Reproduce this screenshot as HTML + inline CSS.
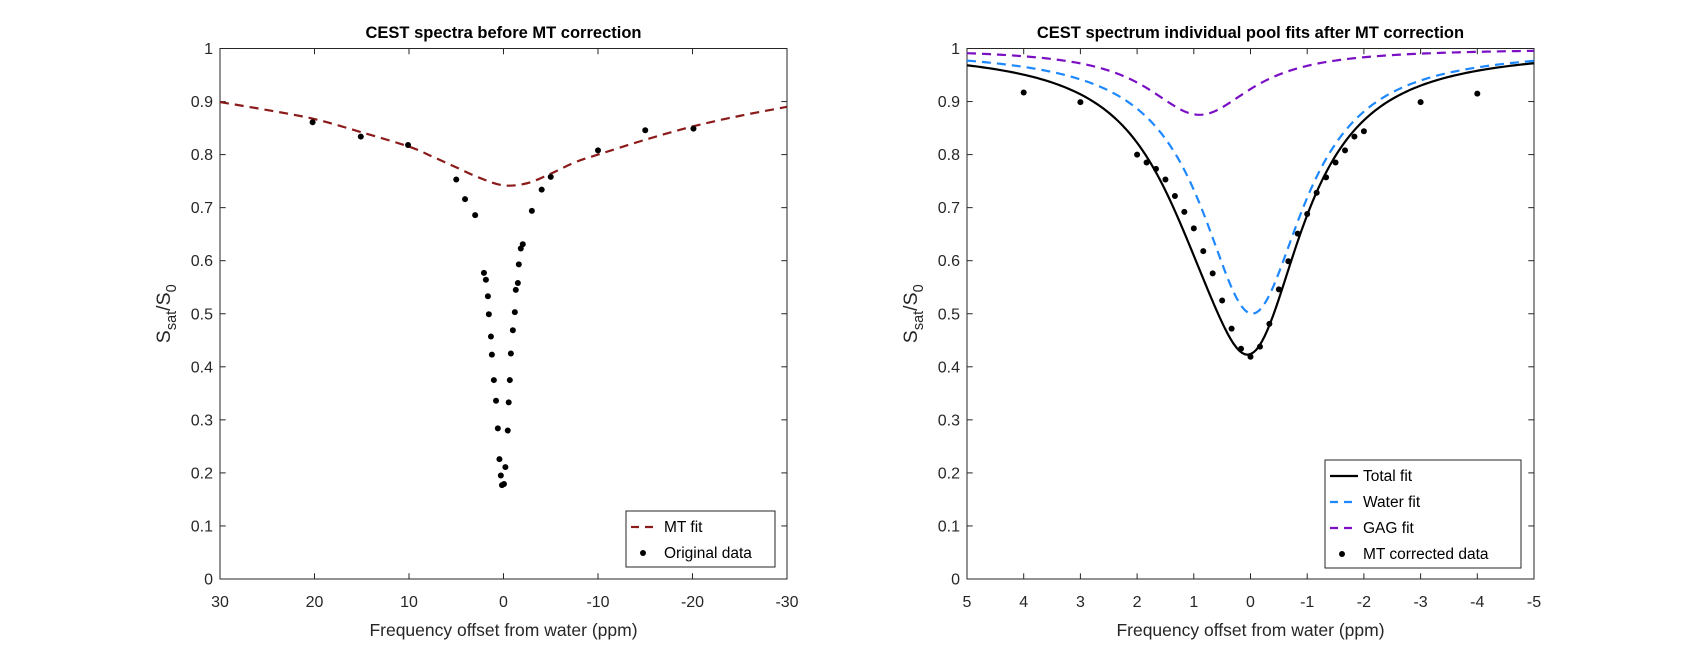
<!DOCTYPE html>
<html><head><meta charset="utf-8"><style>
html,body{margin:0;padding:0;background:#fff;}
svg{display:block;font-family:"Liberation Sans",Arial,sans-serif;}
</style></head><body>
<svg id="fig" width="1695" height="651" viewBox="0 0 1695 651"></svg>
<script>
// ---- Left chart data ----
const mtFitX = [30,25,20,15,10,7.5,5,2.5,0,-2.5,-5,-7.5,-10,-15,-20,-25,-30];
const mtFitY = [0.899,0.884,0.867,0.842,0.815,0.796,0.776,0.756,0.742,0.746,0.764,0.785,0.800,0.828,0.853,0.873,0.890];
const origX = [20.2,15.1,10.1,5,4.07,3,-3,-4.04,-5,-10,-15,-20.1,
  2.07,1.86,1.65,1.55,1.33,1.23,1.02,0.79,0.6,0.43,0.28,0.16,
  -2.04,-1.83,-1.62,-1.52,-1.30,-1.20,-0.99,-0.78,-0.67,-0.55,-0.45,-0.2,-0.05];
const origY = [0.861,0.834,0.818,0.753,0.716,0.686,0.694,0.734,0.758,0.808,0.846,0.849,
  0.577,0.564,0.533,0.499,0.457,0.423,0.375,0.336,0.284,0.226,0.195,0.177,
  0.631,0.623,0.593,0.558,0.545,0.503,0.469,0.425,0.375,0.333,0.280,0.211,0.179];
const leftXTicks = [30,20,10,0,-10,-20,-30];
// ---- Right chart data ----
const corrX = [4,3,2,1.833,1.667,1.5,1.333,1.167,1,0.833,0.667,0.5,0.333,0.167,0,
  -0.167,-0.333,-0.5,-0.667,-0.833,-1,-1.167,-1.333,-1.5,-1.667,-1.833,-2,-3,-4];
const corrY = [0.917,0.899,0.80,0.785,0.773,0.753,0.722,0.692,0.661,0.618,0.576,0.525,0.472,0.434,0.419,
  0.438,0.481,0.546,0.599,0.651,0.688,0.728,0.757,0.785,0.808,0.834,0.844,0.899,0.915];
// Lorentzian fit parameters: [amplitude, center ppm, half-width ppm]
const waterFitParams = [0.5, -0.03, 1.1];
const gagFitParams = [0.125, 0.9, 1.13];
const rightXTicks = [5,4,3,2,1,0,-1,-2,-3,-4,-5];
const yTicks = [0,0.1,0.2,0.3,0.4,0.5,0.6,0.7,0.8,0.9,1];

const NS = "http://www.w3.org/2000/svg";
const svg = document.getElementById('fig');
function el(tag, attrs, parent, text){
  const e = document.createElementNS(NS, tag);
  for (const k in attrs) e.setAttribute(k, attrs[k]);
  if (text !== undefined) e.textContent = text;
  (parent||svg).appendChild(e);
  return e;
}
const TOP = 48.5, BOT = 579;
function makeAxes(x0, x1, xmin, xmax, name){
  const sx = v => x0 + (xmax - v) / (xmax - xmin) * (x1 - x0);
  const sy = v => BOT - v * (BOT - TOP);
  const g = el('g', {});
  
  
  return {sx, sy, g, x0, x1};
}
function drawFrame(ax, xticks, title){
  const g = ax.g;
  const fr = el('rect', {x:ax.x0, y:TOP, width:ax.x1-ax.x0, height:BOT-TOP, fill:'none', stroke:'#262626', 'stroke-width':1}, g);
  
  
  xticks.forEach(t => {
    const x = ax.sx(t);
    el('line', {x1:x, x2:x, y1:BOT, y2:BOT-5.7, stroke:'#262626'}, g);
    el('line', {x1:x, x2:x, y1:TOP, y2:TOP+5.7, stroke:'#262626'}, g);
    const lb = el('text', {x:x, y:BOT+28, 'text-anchor':'middle', 'font-size':16, fill:'#262626'}, g, String(t));
    
    
  });
  yTicks.forEach(t => {
    const y = ax.sy(t);
    el('line', {x1:ax.x0, x2:ax.x0+5.7, y1:y, y2:y, stroke:'#262626'}, g);
    el('line', {x1:ax.x1, x2:ax.x1-5.7, y1:y, y2:y, stroke:'#262626'}, g);
    const lb = el('text', {x:ax.x0-7, y:y+5.5, 'text-anchor':'end', 'font-size':16, fill:'#262626'}, g, String(t));
    
    
  });
  const cx = (ax.x0+ax.x1)/2;
  const tt = el('text', {x:cx, y:38, 'text-anchor':'middle', 'font-size':16.5, 'font-weight':'bold', fill:'#000'}, g, title);
  
  
  const xl = el('text', {x:cx, y:636, 'text-anchor':'middle', 'font-size':17.5, fill:'#262626'}, g, 'Frequency offset from water (ppm)');
  
  
  const yl = el('text', {transform:`translate(${ax.x0-50},${(TOP+BOT)/2}) rotate(-90)`, 'text-anchor':'middle', 'font-size':19.5, fill:'#262626'}, g);
  
  
  el('tspan', {}, yl, 'S');
  el('tspan', {'font-size':14.5, dy:6}, yl, 'sat');
  el('tspan', {dy:-6}, yl, '/S');
  el('tspan', {'font-size':14.5, dy:6}, yl, '0');
}
function smoothPath(pts){
  let d = `M${pts[0][0]},${pts[0][1]}`;
  for (let i=0;i<pts.length-1;i++){
    const p0=pts[Math.max(0,i-1)], p1=pts[i], p2=pts[i+1], p3=pts[Math.min(pts.length-1,i+2)];
    const c1=[p1[0]+(p2[0]-p0[0])/6, p1[1]+(p2[1]-p0[1])/6];
    const c2=[p2[0]-(p3[0]-p1[0])/6, p2[1]-(p3[1]-p1[1])/6];
    d += ` C${c1[0]},${c1[1]} ${c2[0]},${c2[1]} ${p2[0]},${p2[1]}`;
  }
  return d;
}
function dots(ax, xs, ys, name){
  xs.forEach((x,i) => {
    const c = el('circle', {cx:ax.sx(x), cy:ax.sy(ys[i]), r:3, fill:'#000'}, ax.g);
    
    
  });
}
function legend(g, x, y, w, entries){
  const h = entries.length*26 + 4;
  const r = el('rect', {x:x, y:y, width:w, height:h, fill:'#fff', stroke:'#262626'}, g);
  
  
  entries.forEach((e,i) => {
    const yy = y + 16 + i*26;
    if (e.type === 'dot') {
      el('circle', {cx:x+17, cy:yy, r:3, fill:'#000'}, g);
    } else {
      el('line', {x1:x+5, x2:x+33, y1:yy, y2:yy, stroke:e.color, 'stroke-width':2.2, 'stroke-dasharray':e.dash||'none'}, g);
    }
    const t = el('text', {x:x+38, y:yy+5, 'font-size':15.5, fill:'#000'}, g, e.label);
    
    
  });
}

// Left chart
const L = makeAxes(220, 787, -30, 30, 'left-chart');
drawFrame(L, leftXTicks, 'CEST spectra before MT correction');
const mtPath = el('path', {d:smoothPath(mtFitX.map((x,i)=>[L.sx(x), L.sy(mtFitY[i])])), fill:'none', stroke:'#8b1a1a', 'stroke-width':2.2, 'stroke-dasharray':'9,6'}, L.g);


dots(L, origX, origY, 'original-data-point');
legend(L.g, 626, 511, 149, [{label:'MT fit', color:'#8b1a1a', dash:'8,6'}, {label:'Original data', type:'dot'}]);

// Right chart
const R = makeAxes(967, 1534, -5, 5, 'right-chart');
drawFrame(R, rightXTicks, 'CEST spectrum individual pool fits after MT correction');
const lor = (p, x) => p[0] / (1 + Math.pow((x - p[1]) / p[2], 2));
const N = 200;
const wPts = [], gPts = [], tPts = [];
for (let i=0;i<=N;i++){
  const x = 5 - 10*i/N;
  wPts.push([R.sx(x), R.sy(1 - lor(waterFitParams, x))]);
  gPts.push([R.sx(x), R.sy(1 - lor(gagFitParams, x))]);
  tPts.push([R.sx(x), R.sy(1 - lor(waterFitParams, x) - lor(gagFitParams, x))]);
}
const line = pts => 'M' + pts.map(p=>p[0].toFixed(2)+','+p[1].toFixed(2)).join(' L');
const wl = el('path', {d:line(wPts), fill:'none', stroke:'#1e88ff', 'stroke-width':2.2, 'stroke-dasharray':'9,6'}, R.g);


const gl = el('path', {d:line(gPts), fill:'none', stroke:'#7a0fc4', 'stroke-width':2.2, 'stroke-dasharray':'9,6'}, R.g);


const tl = el('path', {d:line(tPts), fill:'none', stroke:'#000', 'stroke-width':2.2}, R.g);


dots(R, corrX, corrY, 'mt-corrected-data-point');
legend(R.g, 1325, 460, 196, [{label:'Total fit', color:'#000'}, {label:'Water fit', color:'#1e88ff', dash:'8,6'}, {label:'GAG fit', color:'#7a0fc4', dash:'8,6'}, {label:'MT corrected data', type:'dot'}]);
</script>
</body></html>
